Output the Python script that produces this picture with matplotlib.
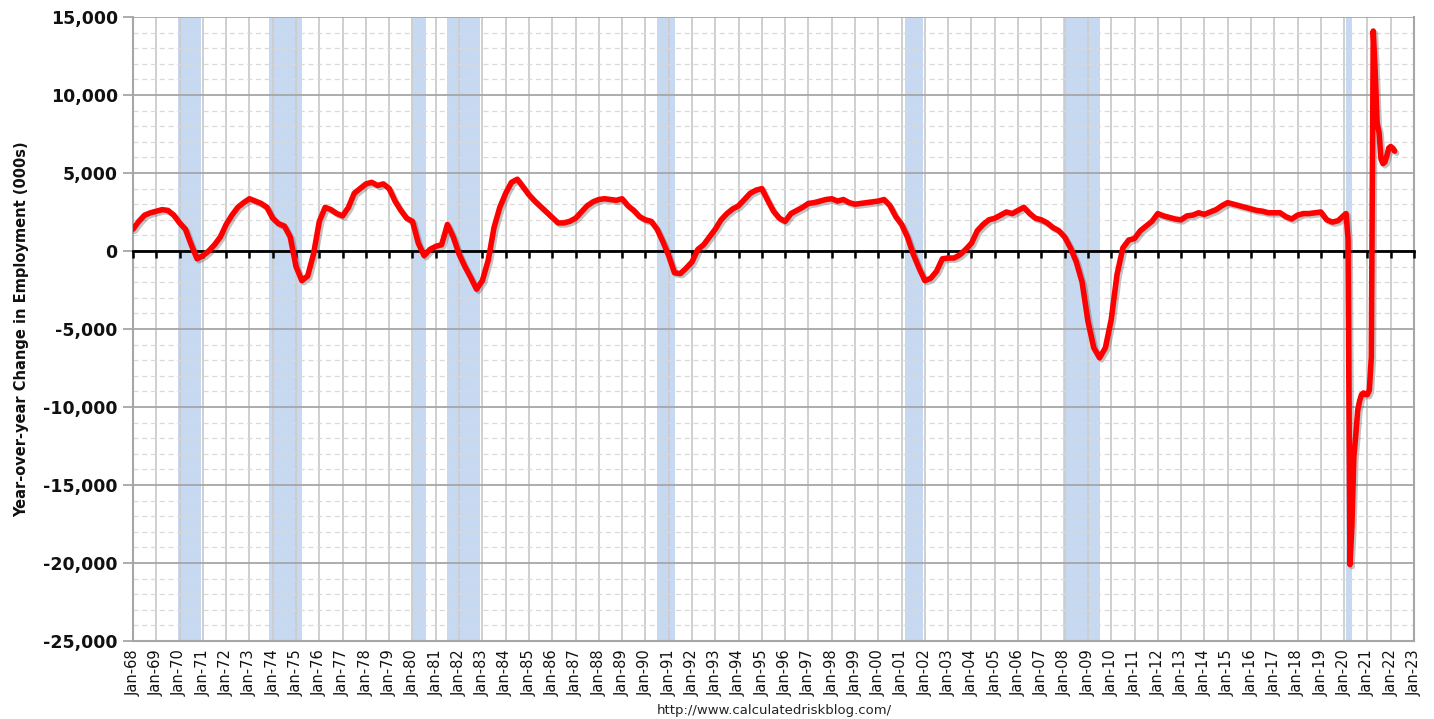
import matplotlib
matplotlib.use("Agg")
import matplotlib.pyplot as plt
import matplotlib.patheffects as pe
from matplotlib.ticker import FuncFormatter, MultipleLocator
import numpy as np

# ---------------- data (thousands of jobs, year-over-year change) ----------------
quarterly_start_year = 1968
# values at Jan / Apr / Jul / Oct of each year, 1968 - 2019
quarterly_values = [
    1400, 1900, 2300, 2450,    # 1968
    2550, 2650, 2600, 2300,    # 1969
    1800, 1400, 400, -500,     # 1970
    -300, 0, 400, 900,         # 1971
    1700, 2300, 2800, 3100,    # 1972
    3350, 3200, 3050, 2800,    # 1973
    2100, 1750, 1600, 900,     # 1974
    -1000, -1900, -1600, -200, # 1975
    1900, 2800, 2650, 2400,    # 1976
    2250, 2800, 3700, 4000,    # 1977
    4300, 4400, 4200, 4300,    # 1978
    4000, 3200, 2600, 2100,    # 1979
    1900, 500, -300, 100,      # 1980
    300, 400, 1700, 900,       # 1981
    -200, -1000, -1700, -2450, # 1982
    -1900, -600, 1500, 2800,   # 1983
    3700, 4400, 4600, 4100,    # 1984
    3600, 3200, 2850, 2500,    # 1985
    2150, 1800, 1800, 1900,    # 1986
    2100, 2500, 2900, 3150,    # 1987
    3300, 3350, 3300, 3250,    # 1988
    3350, 2900, 2600, 2200,    # 1989
    2000, 1900, 1400, 600,     # 1990
    -300, -1400, -1450, -1100, # 1991
    -700, 100, 400, 900,       # 1992
    1400, 2000, 2400, 2700,    # 1993
    2900, 3300, 3700, 3900,    # 1994
    4000, 3250, 2550, 2100,    # 1995
    1900, 2400, 2600, 2800,    # 1996
    3050, 3100, 3200, 3300,    # 1997
    3350, 3200, 3300, 3100,    # 1998
    3000, 3050, 3100, 3150,    # 1999
    3200, 3300, 2900, 2200,    # 2000
    1700, 900, -200, -1100,    # 2001
    -1900, -1750, -1300, -500, # 2002
    -450, -450, -250, 100,     # 2003
    500, 1300, 1700, 2000,     # 2004
    2100, 2300, 2500, 2400,    # 2005
    2600, 2800, 2400, 2100,    # 2006
    2000, 1800, 1500, 1300,    # 2007
    900, 200, -700, -2000,     # 2008
    -4500, -6200, -6850, -6200,# 2009
    -4400, -1500, 200, 700,    # 2010
    800, 1300, 1600, 1900,     # 2011
    2400, 2250, 2150, 2050,    # 2012
    2000, 2250, 2300, 2450,    # 2013
    2350, 2500, 2650, 2900,    # 2014
    3100, 3000, 2900, 2800,    # 2015
    2700, 2600, 2550, 2450,    # 2016
    2450, 2450, 2200, 2050,    # 2017
    2300, 2400, 2400, 2450,    # 2018
    2500, 2000, 1850, 1950,    # 2019
]
# monthly values, Jan 2020 - Mar 2022
monthly_start_year = 2020
monthly_values = [
    2300, 2400, 800, -20100, -17600, -13200, -11800, -10200, -9600, -9200, -9100, -9200,  # 2020
    -9200, -8900, -6800, 14100, 11500, 8200, 7600, 5900, 5600, 5700, 6100, 6600,       # 2021
    6700, 6600, 6400,                                                                     # 2022
]

recession_starts = ["1969-12", "1973-11", "1980-01", "1981-07", "1990-07", "2001-03", "2007-12", "2020-02"]
recession_ends   = ["1970-12", "1975-04", "1980-08", "1982-12", "1991-04", "2001-12", "2009-07", "2020-05"]

year_ticks = list(range(1968, 2024))
year_labels = [f"Jan-{y % 100:02d}" for y in year_ticks]

y_label = "Year-over-year Change in Employment (000s)"
footer = "http://www.calculatedriskblog.com/"

# ---------------- build time axis ----------------
def ym(s):
    y, m = s.split("-")
    return int(y) + (int(m) - 1) / 12.0

t_q = [quarterly_start_year + i * 0.25 for i in range(len(quarterly_values))]
t_m = [monthly_start_year + i / 12.0 for i in range(len(monthly_values))]
t = np.array(t_q + t_m)
v = np.array(quarterly_values + monthly_values, dtype=float)

# ---------------- figure ----------------
fig = plt.figure(figsize=(14.34, 7.19), dpi=100)
ax = fig.add_axes([133 / 1434, 78 / 719, (1414 - 133) / 1434, (641 - 17) / 719])

ax.set_xlim(1968, 2023)
ax.set_ylim(-25000, 15000)

# recession bands
for s, e in zip(recession_starts, recession_ends):
    ax.axvspan(ym(s), ym(e), color="#c6d9f1", zorder=0.5, lw=0)

# grid
ax.yaxis.set_major_locator(MultipleLocator(5000))
ax.yaxis.set_minor_locator(MultipleLocator(1000))
ax.set_xticks(year_ticks)
ax.set_xticklabels(year_labels, rotation=90, fontsize=10.5,
                   family=["Liberation Sans Narrow", "DejaVu Sans"], color="#111111")
ax.grid(axis="x", which="major", color="#cccccc", lw=1.3, zorder=1)
ax.grid(axis="y", which="major", color="#a6a6a6", lw=1.3, zorder=1)
ax.grid(axis="y", which="minor", color="#d9d9d9", lw=0.9, ls=(0, (4, 3)), zorder=1)
ax.set_axisbelow(True)

ax.yaxis.set_major_formatter(FuncFormatter(lambda x, p: f"{int(x):,}"))
ax.tick_params(axis="y", which="major", length=7, color="#a6a6a6", width=1.3, pad=4,
               labelsize=12.5, labelcolor="#111111")
for lab in ax.get_yticklabels():
    lab.set_fontweight("bold")
ax.tick_params(axis="y", which="minor", length=0)
ax.tick_params(axis="x", which="major", length=0, pad=6)

for side in ["left", "bottom", "right"]:
    ax.spines[side].set_color("#a6a6a6")
    ax.spines[side].set_linewidth(1.5)
ax.spines["top"].set_visible(False)

# zero axis with year ticks (black line with downward ticks)
zero_axis = ax.secondary_xaxis(25000 / 40000)
zero_axis.set_zorder(3)
zero_axis.set_xticks(year_ticks)
zero_axis.set_xticklabels([])
zero_axis.tick_params(direction="in", length=5, width=1.8, color="black")
for sp in zero_axis.spines.values():
    sp.set_color("black")
    sp.set_linewidth(2)

# data line
ax.plot(t, v, color="#ff0000", lw=4.0, solid_joinstyle="round", solid_capstyle="round", zorder=5,
        path_effects=[pe.SimpleLineShadow(offset=(1.5, -1.5), shadow_color="#555555", alpha=0.35),
                      pe.Normal()])

ax.set_ylabel(y_label, fontsize=10.5, fontweight="bold", color="#111111", labelpad=10)

fig.text(0.54, 0.003, footer, ha="center", va="bottom", fontsize=9.5, color="#222222")

fig.savefig("out.png", dpi=100)
